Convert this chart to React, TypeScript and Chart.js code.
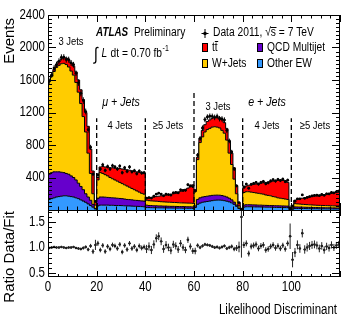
import React, { useEffect, useRef } from 'react';
import { Chart, registerables } from 'chart.js';
Chart.register(...registerables);

const SANS = "'Liberation Sans', Arial, sans-serif";
const SX = 0.82; // horizontal condensation of the reference's Helvetica-like text

// Likelihood discriminant bins: 6 regions x 20 bins (mu: 3j,4j,>=5j ; e: 3j,4j,>=5j)
const N_BINS = 120;
const regionBoundaries = [20, 40, 60, 80, 100];
const boundaryTops = [1130, 1130, 1450, 1130, 1130];
const xTickLabels = [0, 20, 40, 60, 80, 100];
const yTickLabels = [400, 800, 1200, 1600, 2000, 2400];
const ratioTicks = [0.5, 1.0, 1.5];

const otherEW = [
  130, 140, 150, 160, 165, 170, 175, 175, 170, 165, 160, 150, 140, 125, 110, 95, 75, 55, 35, 12,
  50, 60, 60, 60, 60, 58, 58, 56, 55, 55, 54, 52, 50, 50, 48, 46, 45, 44, 42, 40,
  30, 30, 29, 28, 28, 27, 27, 26, 26, 25, 25, 24, 24, 23, 23, 22, 22, 21, 21, 20,
  30, 70, 85, 95, 100, 105, 110, 115, 120, 122, 122, 120, 115, 108, 100, 88, 70, 45, 18, 1,
  35, 40, 40, 40, 39, 38, 38, 37, 36, 35, 35, 34, 33, 32, 32, 31, 30, 30, 29, 3,
  8, 20, 19, 19, 18, 18, 17, 17, 16, 16, 16, 15, 15, 15, 14, 14, 14, 13, 13, 13,
];
const qcdMultijet = [
  310, 320, 320, 310, 305, 295, 285, 275, 270, 255, 240, 220, 190, 165, 140, 105, 85, 65, 35, 8,
  90, 100, 100, 98, 95, 94, 92, 92, 90, 87, 86, 83, 80, 78, 77, 74, 73, 71, 70, 70,
  30, 25, 26, 24, 24, 23, 23, 22, 22, 21, 20, 21, 20, 20, 19, 20, 19, 19, 19, 18,
  20, 60, 65, 65, 65, 65, 65, 65, 62, 61, 60, 58, 55, 52, 45, 37, 27, 16, 5, 1,
  25, 25, 25, 24, 24, 24, 22, 23, 22, 22, 21, 21, 21, 21, 20, 20, 20, 19, 19, 2,
  8, 18, 18, 17, 17, 16, 16, 15, 15, 14, 14, 14, 13, 13, 13, 13, 12, 13, 12, 12,
];
const wJets = [
  1150, 1185, 1235, 1285, 1310, 1335, 1345, 1340, 1320, 1290, 1260, 1200, 1120, 1020, 900, 760, 540, 330, 130, 40,
  230, 300, 290, 277, 265, 248, 235, 222, 210, 198, 185, 175, 165, 152, 140, 130, 117, 105, 93, 85,
  60, 60, 57, 58, 56, 55, 52, 52, 50, 50, 50, 48, 48, 47, 46, 45, 45, 45, 44, 44,
  180, 490, 680, 740, 795, 820, 830, 840, 843, 837, 828, 802, 775, 700, 555, 435, 283, 139, 27, 1,
  155, 160, 160, 156, 152, 148, 145, 140, 137, 128, 124, 120, 111, 107, 98, 94, 90, 86, 82, 6,
  20, 40, 38, 37, 35, 34, 33, 32, 31, 30, 28, 28, 28, 27, 27, 26, 26, 25, 25, 25,
];
const ttbar = [
  10, 15, 25, 35, 50, 60, 75, 80, 90, 100, 110, 130, 150, 170, 210, 240, 330, 300, 280, 40,
  30, 70, 85, 95, 105, 120, 135, 145, 160, 170, 180, 190, 200, 210, 215, 225, 235, 245, 255, 260,
  30, 35, 43, 50, 57, 65, 73, 80, 87, 94, 100, 107, 118, 130, 142, 153, 169, 185, 206, 228,
  20, 30, 50, 80, 90, 100, 105, 110, 115, 120, 125, 130, 130, 140, 150, 140, 140, 100, 40, 3,
  55, 70, 80, 90, 100, 110, 120, 130, 140, 155, 165, 175, 190, 200, 215, 225, 225, 225, 210, 9,
  24, 42, 55, 67, 75, 82, 89, 96, 103, 110, 117, 123, 129, 135, 141, 147, 153, 159, 165, 170,
];
const ratioDataFit = [
  0.99, 1.00, 1.01, 1.00, 1.00, 1.01, 1.00, 0.99, 1.00, 1.00, 1.01, 0.99, 0.98, 0.97, 0.99, 1.01, 0.96, 1.03, 0.92, 1.05,
  1.08, 0.95, 1.04, 0.92, 1.02, 0.97, 1.05, 1.03, 0.98, 1.06, 0.91, 1.04, 0.96, 1.08, 0.98, 1.02, 0.95, 1.03, 0.99, 1.01,
  0.97, 1.02, 0.95, 1.06, 1.18, 1.22, 1.12, 0.97, 1.05, 1.00, 0.94, 1.06, 1.03, 0.96, 1.08, 1.00, 0.95, 1.15, 1.02, 0.93,
  0.93, 1.04, 1.00, 1.03, 1.06, 1.05, 1.04, 1.02, 1.00, 1.01, 0.99, 1.01, 1.03, 0.98, 1.00, 1.02, 0.97, 0.99, 1.01, 1.60,
  1.05, 1.08, 0.88, 1.02, 1.04, 1.06, 0.98, 1.03, 1.05, 0.95, 0.97, 1.02, 1.05, 0.99, 1.03, 0.98, 1.04, 0.97, 1.08, 1.22,
  0.76, 0.90, 1.05, 0.98, 1.28, 0.96, 1.00, 1.03, 1.05, 1.06, 1.04, 0.98, 1.03, 0.95, 1.02, 0.99, 1.05, 1.00, 1.04, 1.06,
];
const ratioErr = [
  0.02, 0.02, 0.02, 0.02, 0.02, 0.02, 0.02, 0.02, 0.02, 0.02, 0.02, 0.02, 0.025, 0.025, 0.03, 0.03, 0.035, 0.04, 0.05, 0.1,
  0.05, 0.045, 0.045, 0.045, 0.045, 0.045, 0.045, 0.045, 0.045, 0.045, 0.045, 0.045, 0.045, 0.046, 0.046, 0.046, 0.046, 0.047, 0.047, 0.047,
  0.08, 0.08, 0.08, 0.08, 0.078, 0.077, 0.076, 0.075, 0.074, 0.073, 0.072, 0.071, 0.07, 0.068, 0.066, 0.065, 0.063, 0.061, 0.059, 0.057,
  0.065, 0.04, 0.034, 0.032, 0.031, 0.03, 0.03, 0.03, 0.03, 0.03, 0.03, 0.03, 0.031, 0.032, 0.034, 0.038, 0.044, 0.058, 0.105, 0.8,
  0.061, 0.058, 0.057, 0.057, 0.056, 0.056, 0.055, 0.055, 0.055, 0.054, 0.054, 0.053, 0.053, 0.053, 0.052, 0.052, 0.052, 0.053, 0.054, 0.25,
  0.15, 0.09, 0.088, 0.085, 0.083, 0.082, 0.08, 0.079, 0.078, 0.077, 0.076, 0.075, 0.074, 0.073, 0.072, 0.071, 0.07, 0.069, 0.068, 0.068,
];

const COLORS = { red: '#ff0000', yellow: '#ffcc00', purple: '#6600cc', blue: '#3399ff' };

const fitTotal = otherEW.map((v, i) => v + qcdMultijet[i] + wJets[i] + ttbar[i]);
const dataCounts = ratioDataFit.map((r, i) => r * fitTotal[i]);
const dataErr = ratioErr.map((e, i) => e * fitTotal[i]);

const hist = (arr: number[]) => [
  ...arr.map((v, i) => ({ x: i, y: v })),
  { x: arr.length, y: arr[arr.length - 1] },
];

// condensed text (horizontal scale), returns drawn width
function ntxt(ctx: CanvasRenderingContext2D, s: string, x: number, y: number, size: number,
  align: CanvasTextAlign = 'left', style = '', baseline: CanvasTextBaseline = 'middle'): number {
  ctx.save();
  ctx.translate(x, y);
  ctx.scale(SX, 1);
  ctx.font = `${style} ${size}px ${SANS}`.trim();
  ctx.textAlign = align;
  ctx.textBaseline = baseline;
  ctx.fillText(s, 0, 0);
  const w = ctx.measureText(s).width * SX;
  ctx.restore();
  return w;
}
function nwidth(ctx: CanvasRenderingContext2D, s: string, size: number, style = ''): number {
  ctx.save();
  ctx.font = `${style} ${size}px ${SANS}`.trim();
  const w = ctx.measureText(s).width * SX;
  ctx.restore();
  return w;
}

const atlasPlugin = {
  id: 'atlasDeco',
  afterDatasetsDraw(chart: any) {
    const ctx: CanvasRenderingContext2D = chart.ctx;
    const xs = chart.scales.x, y = chart.scales.y, yr = chart.scales.yr;
    const L = chart.chartArea.left, R = chart.chartArea.right;
    ctx.save();
    ctx.lineWidth = 1;
    // top panel error bars
    ctx.save();
    ctx.beginPath();
    ctx.rect(L, y.top, R - L, y.bottom - y.top);
    ctx.clip();
    ctx.strokeStyle = '#000';
    for (let i = 0; i < N_BINS; i++) {
      const px = xs.getPixelForValue(i + 0.5);
      const x0 = xs.getPixelForValue(i), x1 = xs.getPixelForValue(i + 1);
      const py = y.getPixelForValue(dataCounts[i]);
      ctx.beginPath();
      ctx.moveTo(px, y.getPixelForValue(dataCounts[i] + dataErr[i]));
      ctx.lineTo(px, y.getPixelForValue(dataCounts[i] - dataErr[i]));
      ctx.moveTo(x0, py);
      ctx.lineTo(x1, py);
      ctx.stroke();
    }
    ctx.restore();
    // ratio panel error bars
    ctx.save();
    ctx.beginPath();
    ctx.rect(L, yr.top, R - L, yr.bottom - yr.top);
    ctx.clip();
    ctx.strokeStyle = '#222';
    for (let i = 0; i < N_BINS; i++) {
      const px = xs.getPixelForValue(i + 0.5);
      const x0 = xs.getPixelForValue(i), x1 = xs.getPixelForValue(i + 1);
      const py = yr.getPixelForValue(ratioDataFit[i]);
      ctx.beginPath();
      ctx.moveTo(px, yr.getPixelForValue(ratioDataFit[i] + ratioErr[i]));
      ctx.lineTo(px, yr.getPixelForValue(ratioDataFit[i] - ratioErr[i]));
      ctx.moveTo(x0, py);
      ctx.lineTo(x1, py);
      ctx.stroke();
    }
    ctx.restore();
    ctx.restore();
  },
  afterDraw(chart: any) {
    const ctx: CanvasRenderingContext2D = chart.ctx;
    const xs = chart.scales.x, y = chart.scales.y, yr = chart.scales.yr;
    const L = chart.chartArea.left, R = chart.chartArea.right;
    ctx.save();
    ctx.strokeStyle = '#000';
    ctx.fillStyle = '#000';
    ctx.lineWidth = 1;
    const c = (v: number) => Math.round(v) + 0.5;
    // frames
    ctx.strokeRect(c(L), c(y.top), Math.round(R - L) - 1, Math.round(y.bottom - y.top));
    ctx.strokeRect(c(L), c(yr.top), Math.round(R - L) - 1, Math.round(yr.bottom - yr.top) - 1);
    ctx.beginPath();
    for (let v = 0; v <= 2400; v += 50) {
      const p = c(y.getPixelForValue(v));
      const len = v % 400 === 0 ? 8 : 4;
      ctx.moveTo(L, p); ctx.lineTo(L + len, p);
      ctx.moveTo(R, p); ctx.lineTo(R - len, p);
    }
    for (let k = 5; k <= 17; k++) {
      const p = c(yr.getPixelForValue(k / 10));
      const len = k % 5 === 0 ? 8 : 4;
      ctx.moveTo(L, p); ctx.lineTo(L + len, p);
      ctx.moveTo(R, p); ctx.lineTo(R - len, p);
    }
    for (let v = 0; v <= 120; v += 4) {
      const p = c(xs.getPixelForValue(v));
      const major = v % 20 === 0;
      const l1 = major ? 7 : 3.5;
      const l2 = major ? 6 : 3;
      ctx.moveTo(p, y.top); ctx.lineTo(p, y.top + l1);
      ctx.moveTo(p, y.bottom); ctx.lineTo(p, y.bottom - l1);
      ctx.moveTo(p, yr.top); ctx.lineTo(p, yr.top + l2);
      ctx.moveTo(p, yr.bottom); ctx.lineTo(p, yr.bottom - l2);
    }
    ctx.stroke();

    // tick labels
    for (const v of yTickLabels) ntxt(ctx, String(v), L - 3, y.getPixelForValue(v), 14, 'right');
    for (const v of ratioTicks) ntxt(ctx, v.toFixed(1), L - 3, yr.getPixelForValue(v), 14, 'right');
    for (const v of xTickLabels) ntxt(ctx, String(v), xs.getPixelForValue(v), yr.bottom + 10.5, 14, 'center');

    // axis titles
    ctx.save();
    ctx.translate(10, 18);
    ctx.rotate(-Math.PI / 2);
    ctx.font = `15px ${SANS}`;
    ctx.textAlign = 'right';
    ctx.textBaseline = 'middle';
    ctx.fillText('Events', 0, 0);
    ctx.restore();
    ctx.save();
    ctx.translate(10, 211);
    ctx.rotate(-Math.PI / 2);
    ctx.font = `15px ${SANS}`;
    ctx.textAlign = 'right';
    ctx.textBaseline = 'middle';
    ctx.fillText('Ratio Data/Fit', 0, 0);
    ctx.restore();
    ntxt(ctx, 'Likelihood Discriminant', 337, 314, 14, 'right', '', 'alphabetic');

    // ATLAS label
    ntxt(ctx, 'ATLAS', 96, 33, 12, 'left', 'italic bold');
    ntxt(ctx, 'Preliminary', 134, 33, 12.5);
    ntxt(ctx, '\u222B', 94, 55, 18);
    ntxt(ctx, 'L', 101.5, 54, 12.5, 'left', 'italic');
    const w1 = ntxt(ctx, 'dt = 0.70 fb', 110.5, 54, 12.5);
    ntxt(ctx, '-1', 110.5 + w1 + 0.5, 49, 8.5);

    // legend
    const lf = 12.5;
    ctx.beginPath();
    ctx.moveTo(201.5, 33.5); ctx.lineTo(208.5, 33.5);
    ctx.moveTo(205, 29); ctx.lineTo(205, 38);
    ctx.stroke();
    ctx.beginPath();
    ctx.arc(205, 33.5, 1.8, 0, Math.PI * 2);
    ctx.fill();
    ntxt(ctx, 'Data 2011, \u221As = 7 TeV', 213, 33, lf);
    const pre = nwidth(ctx, 'Data 2011, \u221A', lf);
    const sw = nwidth(ctx, 's', lf);
    ctx.beginPath();
    ctx.moveTo(213 + pre - 0.5, 27.5); ctx.lineTo(213 + pre + sw + 0.5, 27.5);
    ctx.stroke();
    const boxes: [string, number, number, string][] = [
      [COLORS.red, 202, 43, 'tt'],
      [COLORS.purple, 257, 43, 'QCD Multijet'],
      [COLORS.yellow, 202, 59, 'W+Jets'],
      [COLORS.blue, 257, 59, 'Other EW'],
    ];
    for (const [col, bx, by, lab] of boxes) {
      ctx.fillStyle = col;
      ctx.fillRect(bx, by, 6, 9);
      ctx.strokeStyle = '#000';
      ctx.strokeRect(bx + 0.5, by + 0.5, 5, 8);
      ctx.fillStyle = '#000';
      ntxt(ctx, lab, bx + 10, by + 4.5, lf);
    }
    const tw = nwidth(ctx, 't', lf);
    ctx.beginPath();
    ctx.moveTo(212 + tw, 41.5); ctx.lineTo(212 + 2 * tw + 0.5, 41.5);
    ctx.stroke();

    // region labels
    const rf = 11.5;
    ntxt(ctx, '3 Jets', 71, 42, rf, 'center');
    ntxt(ctx, '\u03BC + Jets', 121, 102, 13, 'center', 'italic');
    ntxt(ctx, '4 Jets', 120, 126, rf, 'center');
    ntxt(ctx, '\u22655 Jets', 168, 126, rf, 'center');
    ntxt(ctx, '3 Jets', 218, 107, rf, 'center');
    ntxt(ctx, 'e + Jets', 267, 102, 13, 'center', 'italic');
    ntxt(ctx, '4 Jets', 267, 126, rf, 'center');
    ntxt(ctx, '\u22655 Jets', 315, 126, rf, 'center');
    ctx.restore();
  },
};

export default function App() {
  const ref = useRef<HTMLCanvasElement>(null);
  useEffect(() => {
    const histStyle = (label: string, arr: number[], color: string, fill: any) => ({
      type: 'line' as const,
      label,
      data: hist(arr),
      yAxisID: 'y',
      stack: 'hist',
      stepped: 'before' as const,
      fill,
      backgroundColor: color,
      borderColor: '#000',
      borderWidth: 1,
      pointRadius: 0,
    });
    const dashSets = regionBoundaries.map((b, k) => ({
      type: 'line' as const,
      label: 'b' + b,
      data: [{ x: b, y: 0 }, { x: b, y: boundaryTops[k] }],
      yAxisID: 'y',
      stack: 'dash' + k,
      borderColor: '#000',
      borderWidth: 1.3,
      borderDash: [5, 3],
      pointRadius: 0,
      fill: false,
      order: -1,
    }));
    const hiddenTicks = { display: false };
    const chart = new Chart(ref.current as HTMLCanvasElement, {
      type: 'line',
      data: {
        datasets: [
          histStyle('Other EW', otherEW, COLORS.blue, 'origin'),
          histStyle('QCD Multijet', qcdMultijet, COLORS.purple, '-1'),
          histStyle('W+Jets', wJets, COLORS.yellow, '-1'),
          histStyle('ttbar', ttbar, COLORS.red, '-1'),
          ...dashSets,
          {
            type: 'line',
            label: 'Data 2011',
            data: dataCounts.map((v, i) => ({ x: i + 0.5, y: v })),
            yAxisID: 'y',
            stack: 'data',
            showLine: false,
            pointRadius: 1.4,
            pointBackgroundColor: '#000',
            pointBorderWidth: 0,
            fill: false,
            order: -2,
          },
          {
            type: 'line',
            label: 'Ratio',
            data: ratioDataFit.map((v, i) => ({ x: i + 0.5, y: v })),
            yAxisID: 'yr',
            showLine: false,
            pointRadius: 1.2,
            pointBackgroundColor: '#000',
            pointBorderWidth: 0,
            fill: false,
            order: -2,
          },
        ] as any,
      },
      options: {
        animation: false,
        responsive: false,
        devicePixelRatio: 1,
        layout: { padding: { top: 15, right: 6, left: 0, bottom: 0 } },
        plugins: { legend: { display: false }, tooltip: { enabled: false }, title: { display: false } },
        scales: {
          x: {
            type: 'linear',
            min: 0,
            max: N_BINS,
            position: 'bottom',
            grid: { display: false, drawTicks: false },
            border: { display: false },
            ticks: hiddenTicks,
            afterFit: (s: any) => { s.height = 42; },
          },
          yr: {
            type: 'linear',
            position: 'left',
            stack: 'v',
            stackWeight: 67,
            min: 0.42,
            max: 1.735,
            grid: { display: false, drawTicks: false },
            border: { display: false },
            ticks: hiddenTicks,
            afterFit: (s: any) => { s.width = 48; },
          },
          y: {
            type: 'linear',
            position: 'left',
            stack: 'v',
            stackWeight: 195,
            stacked: true,
            min: 0,
            max: 2400,
            grid: { display: false, drawTicks: false },
            border: { display: false },
            ticks: hiddenTicks,
            afterFit: (s: any) => { s.width = 48; },
          },
        } as any,
      },
      plugins: [atlasPlugin],
    });
    return () => chart.destroy();
  }, []);
  return (
    <div style={{ position: 'fixed', left: 0, top: 0, width: 346, height: 319, background: '#fff' }}>
      <canvas ref={ref} width={346} height={319} style={{ display: 'block', width: 346, height: 319 }} />
    </div>
  );
}
